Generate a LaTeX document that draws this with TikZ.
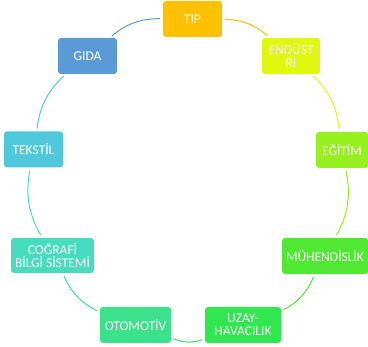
\documentclass[tikz,border=0pt]{standalone}
\usepackage{fontspec}
\setmainfont{Carlito}
\definecolor{cTip}{HTML}{FFC000}
\definecolor{cEnd}{HTML}{E0F80E}
\definecolor{cEgi}{HTML}{96F01E}
\definecolor{cMuh}{HTML}{50E832}
\definecolor{cUza}{HTML}{32E650}
\definecolor{cOto}{HTML}{3CE18C}
\definecolor{cCbs}{HTML}{46DCBE}
\definecolor{cTek}{HTML}{50C8DC}
\definecolor{cGid}{HTML}{5A9BD7}
\tikzset{
  boxnode/.style={rectangle, rounded corners=3pt, text=white, inner sep=1pt,
    align=center, minimum height=36pt,
    font=\fontsize{13.5}{13}\selectfont},
  ring/.style={line width=1pt, bend left=20, shorten <=3pt, shorten >=3pt}
}
\begin{document}
\begin{tikzpicture}[x=1pt,y=1pt]
\useasboundingbox (0,0) rectangle (368,347);
\node[boxnode, fill=cTip, minimum width=59pt] (tip) at (192.5,328) {TIP};
\node[boxnode, fill=cEnd, minimum width=58pt] (end) at (291,291) {ENDÜST\\Rİ};
\node[boxnode, fill=cEgi, minimum width=52pt] (egi) at (342,197) {EĞİTİM};
\node[boxnode, fill=cMuh, minimum width=86pt] (muh) at (325,91) {MÜHENDİSLİK};
\node[boxnode, fill=cUza, minimum width=76pt] (uza) at (243,22) {UZAY-\\HAVACILIK};
\node[boxnode, fill=cOto, minimum width=71pt] (oto) at (135.5,22) {OTOMOTİV};
\node[boxnode, fill=cCbs, minimum width=83pt, minimum height=35pt] (cbs) at (52.5,91.5) {COĞRAFİ\\BİLGİ SİSTEMİ};
\node[boxnode, fill=cTek, minimum width=59pt] (tek) at (33.5,197.5) {TEKSTİL};
\node[boxnode, fill=cGid, minimum width=59pt] (gid) at (87.5,291) {GIDA};
\draw[ring, cTip] (tip) to (end);
\draw[ring, cEnd] (end) to (egi);
\draw[ring, cEgi] (egi) to (muh);
\draw[ring, cMuh] (muh) to (uza);
\draw[ring, cUza] (uza) to (oto);
\draw[ring, cOto] (oto) to (cbs);
\draw[ring, cCbs] (cbs) to (tek);
\draw[ring, cTek] (tek) to (gid);
\draw[ring, cGid] (gid) to (tip);
\end{tikzpicture}
\end{document}
